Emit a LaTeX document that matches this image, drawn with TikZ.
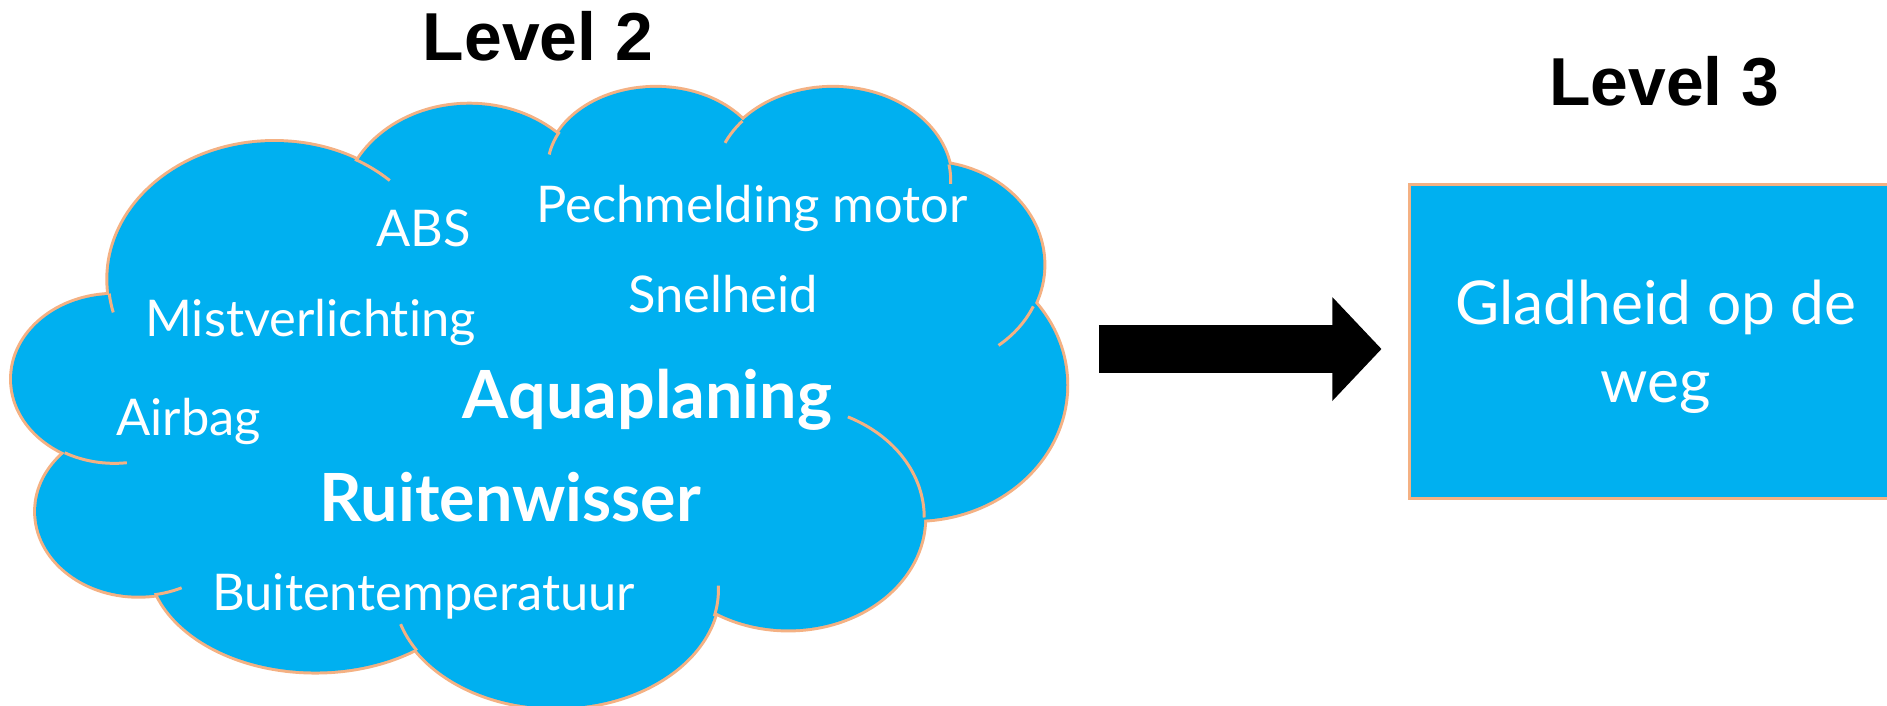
\documentclass[tikz,border=0pt]{standalone}
\usepackage{fontspec}
\usepackage{tikz}
\usetikzlibrary{arrows.meta}
\newfontfamily\cloudfont[Ligatures=NoCommon]{Lato}
\newfontfamily\headfont{Liberation Sans}
\definecolor{skyblue}{HTML}{00B0F0}
\definecolor{peach}{HTML}{F4B183}

\begin{document}
\begin{tikzpicture}[x=0.12035mm,y=-0.12035mm,
    word/.style={text=white,inner sep=0pt,anchor=base,font=\cloudfont\fontsize{14.4}{17}\selectfont},
    bigword/.style={text=white,inner sep=0pt,anchor=base,font=\cloudfont\bfseries\fontsize{18.9}{22}\selectfont},
    leveltitle/.style={inner sep=0pt,anchor=base,font=\headfont\bfseries\fontsize{19.3}{23}\selectfont},
    rim/.style={draw=peach,line width=0.85pt},
  ]
  \useasboundingbox (0,0) rectangle (1568,586.6);

  % cloud: rims first, the fills then hide their inner halves
  \foreach \cx/\cy/\rx/\ry in {228/232/138/114, 390/175/105/88, 545/140/90/67, 692/150/98/77,
      770/220/97/85, 760/320/126/112, 655/430/113/93, 462/490/135/98, 262/465/138/93,
      115/425/85/70, 95/315/85/70}
    \draw[peach,line width=1.7pt] (\cx,\cy) ellipse[x radius=\rx,y radius=\ry];
  \foreach \cx/\cy/\rx/\ry in {228/232/138/114, 390/175/105/88, 545/140/90/67, 692/150/98/77,
      770/220/97/85, 760/320/126/112, 655/430/113/93, 462/490/135/98, 262/465/138/93,
      115/425/85/70, 95/315/85/70}
    \fill[skyblue] (\cx,\cy) ellipse[x radius=\rx,y radius=\ry];
  \fill[skyblue] (450,330) ellipse[x radius=330,y radius=190];

  % inner bits of the lobes
  \foreach \cx/\cy/\rx/\ry/\a/\b in {228/232/138/114/-61/-46, 545/140/90/67/207/190,
      692/150/98/77/220/204, 692/150/98/77/-10/2, 770/220/97/85/24/52, 655/430/113/93/-64/0,
      462/490/135/98/-2/13, 462/490/135/98/163/149, 115/425/85/70/81/65,
      95/315/85/70/119/83, 228/232/138/114/174/166}
    \draw[rim] ({\cx+\rx*cos(\a)},{\cy+\ry*sin(\a)}) arc[start angle=\a,end angle=\b,x radius=\rx,y radius=\ry];

  \node[word] (abs) at (352,205) {ABS};
  \node[word] (pech) at (625,185) {Pechmelding motor};
  \node[word] (mist) at (258,280) {Mistverlichting};
  \node[word] (snel) at (601,260) {Snelheid};
  \node[bigword] (aqua) at (538,348) {Aquaplaning};
  \node[word] (airbag) at (157,362) {Airbag};
  \node[bigword] (ruit) at (424,433) {Ruitenwisser};
  \node[word] (buiten) at (352,507) {Buitentemperatuur};

  \node[leveltitle] (lvltwo) at (447,50) {Level 2};
  \node[leveltitle] (lvlthree) at (1383,88) {Level 3};

  \node[draw=peach,fill=skyblue,line width=0.85pt,minimum width=9.15cm,minimum height=3.14cm,
    anchor=north west] (roadbox) at (1170,152) {};
  \node[text=white,inner sep=0pt,align=center,font=\cloudfont\fontsize{17.2}{22.3}\selectfont]
    (roadtext) at (1376,288) {Gladheid op de\\weg};

  \coordinate (arrowtail) at (913,290);
  \coordinate (arrowtip) at (1148,290);
  \draw[line width=0.481cm,-{Triangle[length=0.493cm,width=1.011cm]}] (arrowtail) -- (arrowtip);
\end{tikzpicture}
\end{document}
